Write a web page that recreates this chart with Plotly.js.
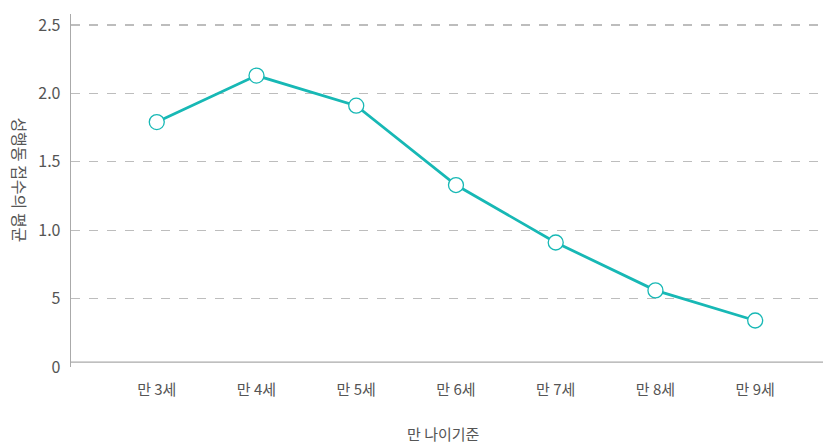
<!DOCTYPE html>
<html>
<head>
<meta charset="utf-8">
<script src="https://cdn.plot.ly/plotly-3.0.1.min.js"></script>
<style>html,body{margin:0;padding:0;background:#fff;}#chart{width:823px;height:443px;}</style>
</head>
<body>
<div id="chart"></div>
<script>
const categories = ["만 3세", "만 4세", "만 5세", "만 6세", "만 7세", "만 8세", "만 9세"];
const values = [1.79, 2.13, 1.91, 1.33, 0.91, 0.56, 0.34];
const yTickVals = [0, 0.5, 1.0, 1.5, 2.0, 2.5];
const yTickText = ["0", "5", "1.0", "1.5", "2.0", "2.5"];
const xTitle = "만 나이기준";
const yTitle = "성행동 접수의 평균";

const teal = "#17b8b5";
const font = "Noto Sans CJK KR, Noto Sans, sans-serif";

const trace = {
  x: categories,
  y: values,
  type: "scatter",
  mode: "lines+markers",
  line: {color: teal, width: 2.8},
  marker: {size: 15, color: "#ffffff", line: {color: teal, width: 1.3}},
  hoverinfo: "x+y"
};

const layout = {
  width: 823, height: 443,
  margin: {l: 71, r: 0, t: 14, b: 76.4},
  paper_bgcolor: "#ffffff",
  plot_bgcolor: "#ffffff",
  showlegend: false,
  font: {family: font, color: "#555555", size: 15},
  xaxis: {
    type: "category",
    range: [-0.86, 6.68],
    showgrid: false,
    zeroline: false,
    showline: false,
    ticks: "",
    ticklabelstandoff: 12,
    tickfont: {size: 15, color: "#555555", family: font}
  },
  yaxis: {
    range: [0, 2.58],
    tickvals: yTickVals,
    ticktext: yTickText,
    showgrid: true,
    gridcolor: "#bdbdbd",
    griddash: "dash",
    gridwidth: 1.2,
    zeroline: false,
    showline: true,
    linecolor: "#aaaaaa",
    linewidth: 1.3,
    ticks: "",
    ticklabelstandoff: 6,
    tickfont: {size: 16, color: "#555555", family: font}
  },
  shapes: [{
    type: "line", xref: "paper", yref: "y",
    x0: 0, x1: 1, y0: 0.035, y1: 0.035,
    line: {color: "#aaaaaa", width: 1.3}
  }],
  annotations: [
    {text: xTitle, xref: "paper", yref: "paper", x: 0.495, y: -0.189,
     xanchor: "center", yanchor: "middle",
     showarrow: false, font: {size: 15, color: "#555555", family: font}},
    {text: yTitle, xref: "paper", yref: "paper", x: -0.068, y: 0.529,
     xanchor: "center", yanchor: "middle",
     textangle: 90, showarrow: false, font: {size: 16, color: "#555555", family: font}}
  ]
};

Plotly.newPlot("chart", [trace], layout, {displayModeBar: false, staticPlot: true});
</script>
</body>
</html>
